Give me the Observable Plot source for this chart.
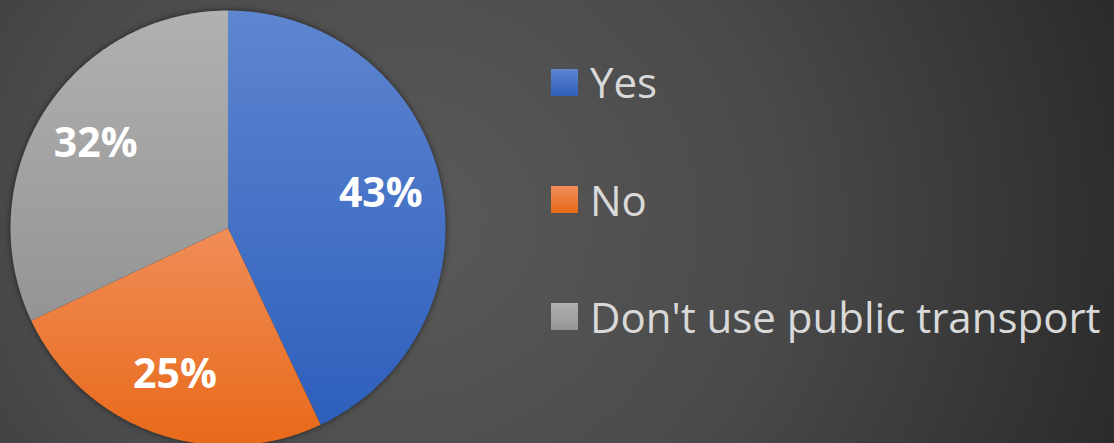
<!DOCTYPE html>
<html>
<head>
<meta charset="utf-8">
<script src="https://cdn.jsdelivr.net/npm/d3@7"></script>
<script src="https://cdn.jsdelivr.net/npm/@observablehq/plot@0.6"></script>
<style>
  html, body { margin: 0; padding: 0; }
  body {
    width: 1114px; height: 443px; overflow: hidden; position: relative;
    background: radial-gradient(760px 700px at 400px 221px, #5a5a5a 0%, #4a4a4a 50%, #2a2a2a 100%);
    font-family: "Open Sans", sans-serif;
  }
  #chart { position: absolute; left: 0; top: 0; }
  #chart g[aria-label="line"] { filter: drop-shadow(0 0 3px rgba(0,0,0,0.55)); }
  #legend { position: absolute; left: 551px; top: 0; }
  .item { position: absolute; left: 0; display: flex; align-items: center; white-space: nowrap; }
  .sw { width: 27px; height: 27px; margin-right: 12px; }
  .lab { color: #d9d9d9; font-size: 42px; line-height: 1; }
</style>
</head>
<body>
<svg width="0" height="0" style="position:absolute">
  <defs>
    <linearGradient id="gYes" x1="0" y1="0" x2="0" y2="1">
      <stop offset="0" stop-color="#5e86d0"/><stop offset="1" stop-color="#2d5fbc"/>
    </linearGradient>
    <linearGradient id="gNo" x1="0" y1="0" x2="0" y2="1">
      <stop offset="0" stop-color="#f08d57"/><stop offset="1" stop-color="#e8691a"/>
    </linearGradient>
    <linearGradient id="gDont" x1="0" y1="0" x2="0" y2="1">
      <stop offset="0" stop-color="#b1b1b1"/><stop offset="1" stop-color="#949494"/>
    </linearGradient>
  </defs>
</svg>
<div id="chart"></div>
<div id="legend"></div>
<script>
const categories = ["Yes", "No", "Don't use public transport"];
const values = [43, 25, 32];
const labels = ["43%", "25%", "32%"];
const fills = ["url(#gYes)", "url(#gNo)", "url(#gDont)"];
const swatches = ["linear-gradient(#5e86d0,#2d5fbc)", "linear-gradient(#f08d57,#e8691a)", "linear-gradient(#b1b1b1,#949494)"];

const arcs = d3.pie().sort(null)(values);

// polygon points for each slice (unit circle, y up)
const pts = [];
arcs.forEach((a, i) => {
  const cat = categories[i];
  pts.push({cat, fill: fills[i], x: 0, y: 0});
  const n = Math.max(8, Math.ceil((a.endAngle - a.startAngle) / 0.01));
  for (let k = 0; k <= n; k++) {
    const t = a.startAngle + (a.endAngle - a.startAngle) * k / n;
    pts.push({cat, fill: fills[i], x: Math.sin(t), y: Math.cos(t)});
  }
  pts.push({cat, fill: fills[i], x: 0, y: 0});
});

const labelData = arcs.map((a, i) => {
  const m = (a.startAngle + a.endAngle) / 2;
  return {label: labels[i], x: 0.72 * Math.sin(m), y: 0.72 * Math.cos(m)};
});

const plot = Plot.plot({
  width: 455,
  height: 443,
  margin: 0,
  style: "background: transparent; overflow: visible;",
  x: {domain: [-1, 1], range: [10, 445], axis: null},
  y: {domain: [-1, 1], range: [445, 10], axis: null},
  color: {type: "identity"},
  marks: [
    Plot.line(pts, {x: "x", y: "y", z: "cat", fill: "fill", stroke: "none", curve: "linear"}),
    Plot.text(labelData, {x: "x", y: "y", text: "label", fill: "white", fontSize: 41, fontWeight: "bold", fontFamily: "'Open Sans', sans-serif"})
  ]
});
document.getElementById("chart").appendChild(plot);

// legend
const centers = [82, 199.5, 316.5];
const legend = document.getElementById("legend");
categories.forEach((c, i) => {
  const it = document.createElement("div");
  it.className = "item";
  it.style.top = (centers[i] - 20) + "px";
  it.style.height = "40px";
  const sw = document.createElement("div");
  sw.className = "sw";
  sw.style.background = swatches[i];
  const lab = document.createElement("span");
  lab.className = "lab";
  lab.textContent = c;
  it.appendChild(sw); it.appendChild(lab);
  legend.appendChild(it);
});
</script>
</body>
</html>
